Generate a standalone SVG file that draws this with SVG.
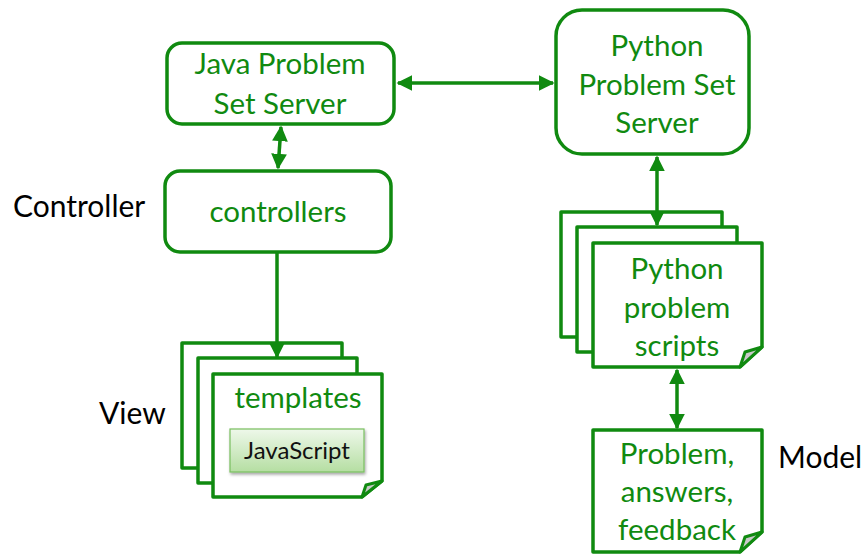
<svg xmlns="http://www.w3.org/2000/svg" width="865" height="554" viewBox="0 0 865 554">
<defs>
<style>
.box{fill:#fff;stroke:#108a10;stroke-width:3.5;stroke-linejoin:round}
.page{fill:#fff;stroke:#108a10;stroke-width:3.5;stroke-linejoin:round}
.fold{fill:#c9c9c9;stroke:#108a10;stroke-width:3;stroke-linejoin:round}
.t{font-family:Lato,"Open Sans",sans-serif;font-size:29.5px;fill:#108a10;text-anchor:middle}
.lbl{font-family:Lato,"Open Sans",sans-serif;font-size:30px;fill:#000}
.conn{stroke:#108a10;stroke-width:3.5;fill:none}
</style>
<marker id="ah" viewBox="0 0 10 10" refX="9" refY="5" markerWidth="4.5" markerHeight="4.5" orient="auto-start-reverse" markerUnits="strokeWidth">
<path d="M0,0 L10,5 L0,10 z" fill="#108a10"/>
</marker>
<linearGradient id="jsg" x1="0" y1="0" x2="0" y2="1">
<stop offset="0" stop-color="#eef8ea"/>
<stop offset="1" stop-color="#b5dea2"/>
</linearGradient>
<filter id="sh" x="-10%" y="-10%" width="130%" height="140%">
<feDropShadow dx="1" dy="2" stdDeviation="1.5" flood-color="#000" flood-opacity="0.35"/>
</filter>
</defs>
<g id="java-server">
<rect class="box" x="167" y="43" width="227" height="81" rx="15"/>
<text class="t" x="280" y="74">Java Problem</text>
<text class="t" x="280" y="114">Set Server</text>
</g>
<g id="python-server">
<rect class="box" x="556" y="10" width="193" height="144" rx="26"/>
<text class="t" x="657" y="56">Python</text>
<text class="t" x="657" y="95">Problem Set</text>
<text class="t" x="657" y="133">Server</text>
</g>
<g id="controllers">
<rect class="box" x="165" y="171" width="226" height="81" rx="15"/>
<text class="t" x="278" y="222">controllers</text>
</g>
<g id="templates">
<rect class="page" x="182" y="343" width="160" height="125"/>
<rect class="page" x="198" y="358" width="159" height="125"/>
<path class="page" d="M213,374 H382 V481 L362,497 H213 Z"/>
<path class="fold" d="M382,481 L366,485 L362,497 Z"/>
<text class="t" x="298" y="408">templates</text>
<rect x="230" y="429" width="134" height="43" fill="url(#jsg)" stroke="#79bf5f" stroke-width="1.2" filter="url(#sh)"/>
<text x="297" y="459" font-family="Lato,'Open Sans',sans-serif" font-size="24" fill="#111" text-anchor="middle">JavaScript</text>
</g>
<g id="python-scripts">
<rect class="page" x="561" y="212" width="161" height="125"/>
<rect class="page" x="577" y="227" width="160" height="125"/>
<path class="page" d="M593,243 H762 V347 L740,367 H593 Z"/>
<path class="fold" d="M762,347 L745,352 L740,367 Z"/>
<text class="t" x="677" y="279">Python</text>
<text class="t" x="677" y="318">problem</text>
<text class="t" x="677" y="356">scripts</text>
</g>
<g id="model-data">
<path class="page" d="M593,430 H762 V532 L740,552 H593 Z"/>
<path class="fold" d="M762,532 L745,537 L740,552 Z"/>
<text class="t" x="677" y="464">Problem,</text>
<text class="t" x="677" y="502">answers,</text>
<text class="t" x="677" y="540">feedback</text>
</g>
<g id="labels">
<text class="lbl" x="13" y="217">Controller</text>
<text class="lbl" x="99" y="424">View</text>
<text class="lbl" x="778" y="468">Model</text>
</g>
<g id="connectors">
<line class="conn" x1="398" y1="83" x2="553" y2="83" marker-start="url(#ah)" marker-end="url(#ah)"/>
<line class="conn" x1="281" y1="127" x2="278" y2="168" marker-start="url(#ah)" marker-end="url(#ah)"/>
<line class="conn" x1="277" y1="252" x2="277" y2="357" marker-end="url(#ah)"/>
<line class="conn" x1="657" y1="157" x2="657" y2="225" marker-start="url(#ah)" marker-end="url(#ah)"/>
<line class="conn" x1="677" y1="370" x2="677" y2="428" marker-start="url(#ah)" marker-end="url(#ah)"/>
</g>
</svg>
